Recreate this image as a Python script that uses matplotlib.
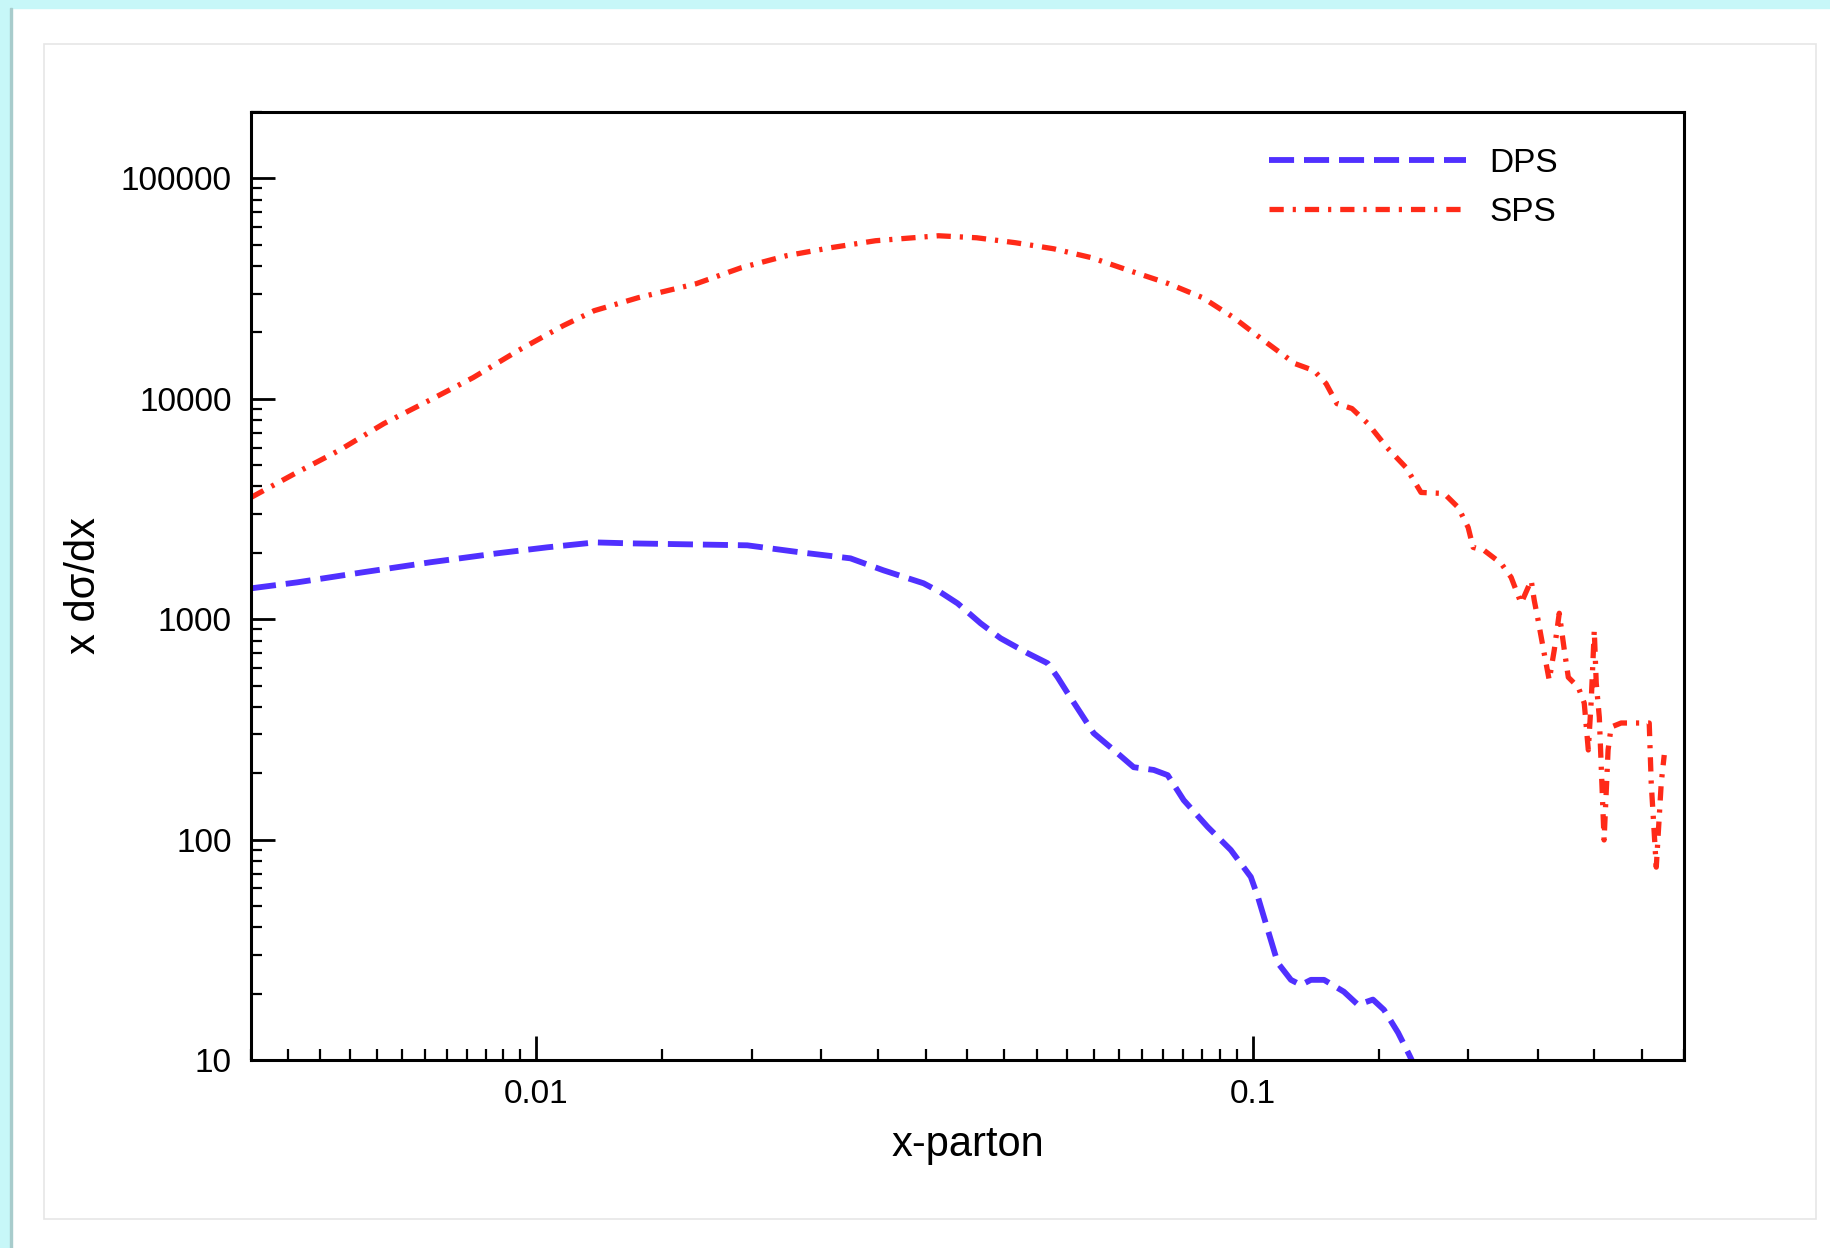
import matplotlib.pyplot as plt
import numpy as np
from matplotlib.patches import Rectangle
from matplotlib.ticker import LogLocator, NullFormatter

# DPS (double parton scattering)
dps_x = [0.0040, 0.00464, 0.00573, 0.00711, 0.00882,
         0.01036, 0.01209, 0.01353, 0.01971, 0.02338,
         0.02746, 0.03053, 0.03473, 0.03668, 0.03874,
         0.04172, 0.04449, 0.04852, 0.05175, 0.05344,
         0.05518, 0.05754, 0.0600, 0.06399, 0.06823,
         0.07278, 0.07612, 0.08013, 0.08658, 0.09323,
         0.09942, 0.1017, 0.1050, 0.1084, 0.1131,
         0.1168, 0.1206, 0.1258, 0.1341, 0.1403,
         0.1472, 0.1525, 0.1596, 0.1653, 0.1680]
dps_y = [1380, 1469, 1632, 1811, 1989,
         2118, 2230, 2208, 2163, 2010,
         1888, 1666, 1455, 1324, 1180,
         958, 819, 701, 631, 545,
         462, 375, 304, 255, 213,
         207, 196, 151, 114, 89.7,
         67.7, 55.0, 38.9, 27.6, 23.1,
         21.9, 23.1, 23.1, 20.4, 17.8,
         18.8, 16.9, 13.3, 10.6, 9.5]

# SPS (single parton scattering)
sps_x = [0.0040, 0.004607, 0.005306, 0.006133, 0.007087,
         0.008166, 0.009437, 0.01091, 0.01205, 0.01388,
         0.01673, 0.01933, 0.02235, 0.02575, 0.02976,
         0.03644, 0.04119, 0.04669, 0.05276, 0.05963,
         0.06736, 0.07637, 0.08518, 0.09412, 0.1037,
         0.1146, 0.1218, 0.1266, 0.1311, 0.1376,
         0.1448, 0.1540, 0.1637, 0.1718, 0.1850,
         0.1936, 0.1999, 0.2031, 0.2104, 0.2222,
         0.2295, 0.2370, 0.2448, 0.2472, 0.2503,
         0.2552, 0.2594, 0.2636, 0.2679, 0.2723,
         0.2758, 0.2848, 0.2903, 0.2941, 0.2969,
         0.2998, 0.3017, 0.3047, 0.3094, 0.3134,
         0.3165, 0.3268, 0.3577, 0.3600, 0.3659,
         0.3718, 0.3754]
sps_y = [3567, 4581, 5825, 7722, 9815,
         12470, 16540, 21460, 25090, 28740,
         33270, 39310, 44560, 48430, 52110,
         54900, 53760, 51030, 47920, 43630,
         38100, 33270, 28740, 23330, 18350,
         14430, 13420, 11720, 9511, 9029,
         7722, 6009, 4879, 3758, 3718,
         3214, 2608, 2118, 2052, 1792,
         1549, 1180, 1501, 1218, 989,
         701, 529, 723, 1064, 723,
         545, 491, 416, 255, 429,
         891, 513, 359, 99.6, 255,
         324, 338, 338, 181, 75,
         181, 242]

x_ticks = [0.01, 0.1]
x_tick_labels = ['0.01', '0.1']
y_ticks = [10, 100, 1000, 10000, 100000]
y_tick_labels = ['10', '100', '1000', '10000', '100000']

plt.rcParams['font.family'] = ['Liberation Sans', 'DejaVu Sans']

W, H = 1831, 1248
fig = plt.figure(figsize=(W / 100, H / 100), dpi=100)
fig.patch.set_facecolor('white')

# screenshot frame: cyan strip top/left and the light card border
cyan = '#c7f7f8'
fig.patches.append(Rectangle((0, 1 - 8 / H), 1, 8 / H, transform=fig.transFigure,
                             color=cyan, zorder=0))
fig.patches.append(Rectangle((0, 0), 10 / W, 1, transform=fig.transFigure,
                             color=cyan, zorder=0))
fig.patches.append(Rectangle((10 / W, 0), 2 / W, 1 - 8 / H, transform=fig.transFigure,
                             color='#a8cccc', zorder=0))
fig.patches.append(Rectangle((44 / W, 1 - 1219 / H), (1816 - 44) / W, (1219 - 44) / H,
                             transform=fig.transFigure, fill=False,
                             ec='#e6e6e6', lw=1.2, zorder=0))

ax = fig.add_axes([251 / W, 1 - 1060 / H, 1433 / W, 948 / H])

ax.plot(dps_x, dps_y, color='#5030ff', lw=4.2, linestyle=(0, (4.3, 1.7)),
        label='DPS')
ax.plot(sps_x, sps_y, color='#ff2a18', lw=3.8, linestyle=(0, (2.7, 1.7, 0.6, 1.7)),
        label='SPS')

ax.set_xscale('log')
ax.set_yscale('log')
ax.set_xlim(0.004, 0.4)
ax.set_ylim(10, 2e5)

ax.set_xticks(x_ticks)
ax.set_xticklabels(x_tick_labels)
ax.set_yticks(y_ticks)
ax.set_yticklabels(y_tick_labels)
ax.xaxis.set_minor_locator(LogLocator(base=10, subs=np.arange(1.5, 10, 0.5), numticks=50))
ax.yaxis.set_minor_locator(LogLocator(base=10, subs=np.arange(2, 10), numticks=50))
ax.xaxis.set_minor_formatter(NullFormatter())
ax.yaxis.set_minor_formatter(NullFormatter())

ax.tick_params(which='both', direction='in', top=False, right=False, labelsize=24, pad=14)
ax.tick_params(which='major', length=17, width=2.0)
ax.tick_params(which='minor', length=8, width=1.6)

for sp in ax.spines.values():
    sp.set_linewidth(2.2)

ax.set_xlabel('x-parton', fontsize=30, va='baseline')
ax.xaxis.set_label_coords(0.5, -0.101)
ax.set_ylabel('x dσ/dx', fontsize=30, va='center')
ax.yaxis.set_label_coords(-0.1165, 0.5)

ax.legend(loc='upper left', bbox_to_anchor=((1269 - 251) / 1433, (1060 - 148) / 948),
          frameon=False, fontsize=24, borderpad=0, borderaxespad=0,
          handlelength=5.9, handletextpad=0.72, labelspacing=0.53)

fig.savefig('out.png', dpi=100)
